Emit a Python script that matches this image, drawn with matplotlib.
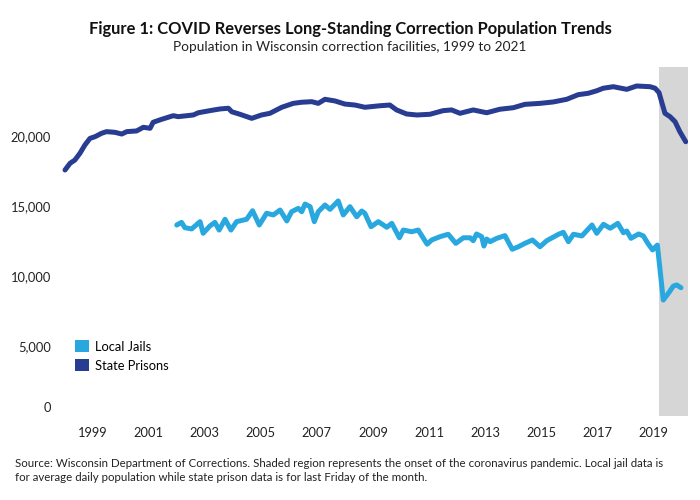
import matplotlib
matplotlib.use("Agg")
import matplotlib.pyplot as plt
from matplotlib.patches import Patch
from matplotlib.transforms import ScaledTranslation

plt.rcParams['font.family'] = ['Lato', 'DejaVu Sans']

# State prison population (x in axis-label years)
prison_year = [1998.03, 1998.21, 1998.38, 1998.56, 1998.74, 1998.92, 1999.10, 1999.33,
               1999.51, 1999.81, 2000.05, 2000.23, 2000.58, 2000.82, 2001.06, 2001.17,
               2001.47, 2001.89, 2002.06, 2002.60, 2002.78, 2003.25, 2003.55, 2003.85,
               2003.97, 2004.26, 2004.68, 2005.03, 2005.33, 2005.75, 2006.16, 2006.46,
               2006.82, 2007.05, 2007.29, 2007.65, 2008.00, 2008.36, 2008.71, 2009.25,
               2009.60, 2009.84, 2010.20, 2010.56, 2011.03, 2011.50, 2011.80, 2012.10,
               2012.57, 2013.05, 2013.52, 2014.00, 2014.41, 2014.95, 2015.42, 2015.90,
               2016.31, 2016.67, 2016.97, 2017.20, 2017.56, 2018.04, 2018.39, 2018.87,
               2019.05, 2019.19, 2019.28, 2019.40, 2019.58, 2019.76, 2019.93, 2020.14]
prison_pop = [17550, 18030, 18260, 18740, 19340, 19810, 19930, 20170,
              20290, 20240, 20120, 20290, 20340, 20600, 20530, 20960,
              21170, 21430, 21360, 21480, 21640, 21810, 21910, 21960,
              21710, 21530, 21240, 21480, 21600, 22030, 22310, 22390,
              22430, 22310, 22600, 22480, 22260, 22190, 22030, 22140,
              22190, 21840, 21550, 21480, 21530, 21790, 21840, 21600,
              21840, 21640, 21890, 22000, 22240, 22310, 22410, 22600,
              22930, 23030, 23210, 23390, 23500, 23310, 23550, 23500,
              23390, 23070, 22430, 21600, 21360, 21000, 20290, 19570]

# Local jail average daily population
jail_year = [2002.01, 2002.18, 2002.30, 2002.54, 2002.84, 2002.95, 2003.19, 2003.37,
             2003.52, 2003.73, 2003.94, 2004.14, 2004.50, 2004.71, 2004.95, 2005.21,
             2005.45, 2005.69, 2005.93, 2006.10, 2006.34, 2006.46, 2006.58, 2006.76,
             2006.91, 2007.05, 2007.29, 2007.47, 2007.76, 2007.94, 2008.18, 2008.42,
             2008.60, 2008.71, 2008.93, 2009.19, 2009.49, 2009.67, 2009.94, 2010.08,
             2010.38, 2010.61, 2010.93, 2011.09, 2011.39, 2011.68, 2011.95, 2012.22,
             2012.46, 2012.57, 2012.69, 2012.87, 2012.95, 2013.05, 2013.17, 2013.41,
             2013.70, 2013.96, 2014.18, 2014.41, 2014.68, 2014.95, 2015.19, 2015.61,
             2015.78, 2015.96, 2016.14, 2016.44, 2016.80, 2016.97, 2017.21, 2017.45,
             2017.72, 2017.92, 2018.04, 2018.19, 2018.46, 2018.63, 2018.79, 2018.96,
             2019.13, 2019.34, 2019.52, 2019.70, 2019.82, 2019.97]
jail_pop = [13620, 13810, 13430, 13340, 13860, 13030, 13550, 13810,
            13260, 14030, 13260, 13860, 14030, 14640, 13620, 14460,
            14340, 14690, 13910, 14570, 14810, 14570, 15120, 14930,
            13860, 14570, 15050, 14740, 15340, 14340, 14930, 14210,
            14620, 14460, 13500, 13860, 13460, 13740, 12710, 13260,
            13140, 13260, 12250, 12550, 12790, 12960, 12310, 12710,
            12710, 12500, 12980, 12790, 12120, 12620, 12430, 12670,
            12860, 11890, 12070, 12310, 12550, 12070, 12500, 12960,
            13100, 12430, 12960, 12840, 13620, 13030, 13670, 13390,
            13740, 13070, 13190, 12670, 12980, 12840, 12310, 11840,
            12190, 8260, 8740, 9260, 9340, 9140]

year_ticks = [1999, 2001, 2003, 2005, 2007, 2009, 2011, 2013, 2015, 2017, 2019]
pop_ticks = [0, 5000, 10000, 15000, 20000]
covid_start, covid_end = 2019.19, 2020.21

prison_color = '#283d92'
jail_color = '#29a8e0'

fig = plt.figure(figsize=(7, 5), dpi=100)
ax = fig.add_axes([58/700, 1 - 415.7/500, (687.7 - 58)/700, (415.7 - 67)/500])

ax.axvspan(covid_start, covid_end, color='#d6d6d6', lw=0, zorder=0)
ax.plot(prison_year, prison_pop, color=prison_color, lw=3.6, solid_capstyle='round',
        solid_joinstyle='round', zorder=3)
ax.plot(jail_year, jail_pop, color=jail_color, lw=3.6, solid_capstyle='round',
        solid_joinstyle='round', zorder=3)

ax.set_xlim(1997.78, covid_end)
ax.set_ylim(0, 24907)
ax.set_xticks(year_ticks)
ax.set_xticklabels([str(y) for y in year_ticks])
ax.set_yticks(pop_ticks)
ax.set_yticklabels([f"{v:,}" for v in pop_ticks])
ax.tick_params(axis='both', length=0, labelsize=9.3, colors='#222222')
ax.tick_params(axis='x', pad=8)
ax.tick_params(axis='y', pad=5)
for s in ax.spines.values():
    s.set_visible(False)

# nudge the "0" label up (kept inside pane)
lbl0 = ax.get_yticklabels()[0]
lbl0.set_transform(lbl0.get_transform() + ScaledTranslation(0, 0.09, fig.dpi_scale_trans))

handles = [Patch(facecolor=jail_color, edgecolor='none', label='Local Jails'),
           Patch(facecolor=prison_color, edgecolor='none', label='State Prisons')]
ax.legend(handles=handles, loc='upper left', bbox_to_anchor=(0.018, 0.232),
          frameon=False, fontsize=9.3, handlelength=1.1, handleheight=1.1,
          handletextpad=0.5, labelspacing=0.5, borderaxespad=0)

fig.text(0.5, 1 - 29/500, "Figure 1: COVID Reverses Long-Standing Correction Population Trends",
         ha='center', va='center', fontsize=11.9, fontweight='bold', color='#111111')
fig.text(0.5, 1 - 47/500, "Population in Wisconsin correction facilities, 1999 to 2021",
         ha='center', va='center', fontsize=9.8, color='#222222')
fig.text(15/700, 1 - 463.5/500,
         "Source: Wisconsin Department of Corrections. Shaded region represents the onset of the coronavirus pandemic. Local jail data is",
         ha='left', va='center', fontsize=8.3, color='#222222')
fig.text(15/700, 1 - 477.7/500,
         "for average daily population while state prison data is for last Friday of the month.",
         ha='left', va='center', fontsize=8.3, color='#222222')

fig.savefig('out.png', dpi=100)
